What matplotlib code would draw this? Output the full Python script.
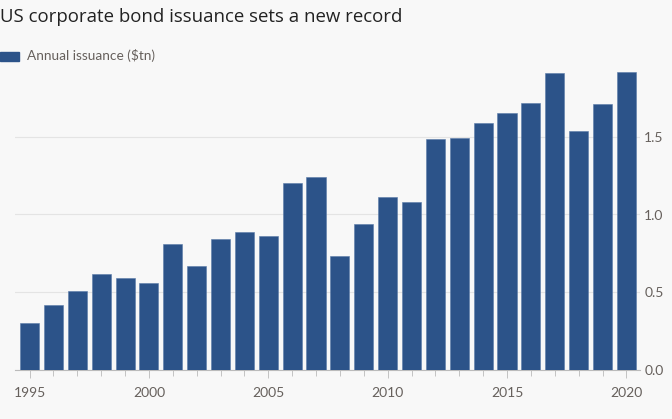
import matplotlib.pyplot as plt

years = list(range(1995, 2021))
issuance = [0.30, 0.42, 0.51, 0.62, 0.59, 0.56, 0.81, 0.67, 0.84, 0.89,
            0.86, 1.20, 1.24, 0.73, 0.94, 1.11, 1.08, 1.485, 1.49, 1.59,
            1.65, 1.72, 1.91, 1.535, 1.71, 1.915]
ytick_vals = [0.0, 0.5, 1.0, 1.5]
xtick_major = [1995, 2000, 2005, 2010, 2015, 2020]

bar_color = '#2c5389'
text_gray = '#66605c'
bg = '#f8f8f8'

W, H = 672, 419
fig = plt.figure(figsize=(W / 100, H / 100), dpi=100, facecolor=bg)
ax = fig.add_axes([15 / W, (H - 370) / H, (640 - 15) / W, (370 - 59) / H])
ax.set_facecolor(bg)

ax.bar(years, issuance, width=0.8, color=bar_color, edgecolor='#5a7aa8',
       linewidth=0.4, zorder=3)

ax.set_xlim(1994.39, 2020.57)
ax.set_ylim(0, 2.0)

ax.yaxis.tick_right()
ax.set_yticks(ytick_vals)
ax.set_yticklabels(['%.1f' % v for v in ytick_vals])
ax.grid(axis='y', color='#e4e4e4', linewidth=0.8, zorder=0)
ax.tick_params(axis='y', length=0, pad=3, labelsize=10, labelcolor=text_gray)

ax.set_xticks(years, minor=True)
ax.set_xticks(xtick_major)
ax.set_xticklabels([str(y) for y in xtick_major])
ax.tick_params(axis='x', which='both', length=4, width=0.6, color='#bbbbbb',
               labelsize=10, labelcolor=text_gray, pad=6)
ax.tick_params(axis='x', which='major', length=6)

for s in ['top', 'left', 'right']:
    ax.spines[s].set_visible(False)
ax.spines['bottom'].set_color('#bbbbbb')
ax.spines['bottom'].set_linewidth(0.8)

for lbl in ax.get_xticklabels() + ax.get_yticklabels():
    lbl.set_family('Lato')

fig.text(0, 1 - 17 / H, 'US corporate bond issuance sets a new record',
         fontsize=13.4, family='Open Sans', color='#222222', va='center', ha='left')
fig.patches.append(plt.Rectangle((0, 1 - 61 / H), 19 / W, 9 / H,
                                 transform=fig.transFigure, color=bar_color))
fig.text(27 / W, 1 - 56 / H, 'Annual issuance ($tn)', fontsize=9.8,
         family='Lato', color=text_gray, va='center', ha='left')

fig.savefig('out.png', dpi=100, facecolor=bg)
